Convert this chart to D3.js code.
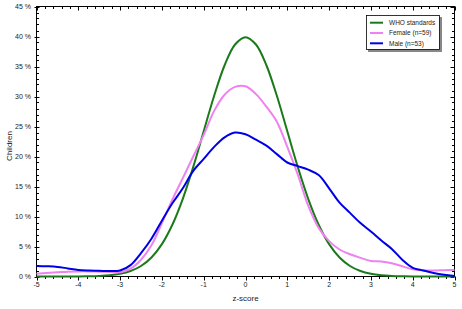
<!DOCTYPE html>
<html><head><meta charset="utf-8">
<script src="https://cdn.jsdelivr.net/npm/d3@7"></script>
<style>
html,body{margin:0;padding:0;background:#fff;}
svg{display:block;font-family:"Liberation Sans",Arial,sans-serif;}
</style></head>
<body><svg id="c" width="462" height="309"></svg>
<script>
const zScores = [-5,-4.75,-4.5,-4.25,-4,-3.75,-3.5,-3.25,-3,-2.75,-2.5,-2.25,-2,-1.75,-1.5,-1.25,-1,-0.75,-0.5,-0.25,0,0.25,0.5,0.75,1,1.25,1.5,1.75,2,2.25,2.5,2.75,3,3.25,3.5,3.75,4,4.25,4.5,4.75,5];
const whoValues = [0.0001,0.0005,0.002,0.005,0.013,0.035,0.087,0.203,0.443,0.909,1.753,3.174,5.399,8.628,12.952,18.265,24.197,30.114,35.207,38.667,39.894,38.667,35.207,30.114,24.197,18.265,12.952,8.628,5.399,3.174,1.753,0.909,0.443,0.203,0.087,0.035,0.013,0.005,0.002,0.0005,0.0001];
const femaleValues = [0.45,0.6,0.7,0.8,0.85,0.85,0.8,0.75,0.7,1.3,2.8,5.2,8.9,12.8,16.4,20.0,23.6,27.6,30.3,31.6,31.7,30.4,28.3,25.8,21.6,17.0,11.8,8.1,5.9,4.5,3.7,3.1,2.6,2.5,2.2,1.7,1.2,1.0,1.0,1.05,1.1];
const maleValues = [1.75,1.7,1.6,1.35,1.1,1.0,0.95,0.9,1.0,1.9,3.9,6.3,9.3,12.2,14.7,17.6,19.6,21.6,23.2,24.0,23.7,22.8,21.8,20.4,19.0,18.4,17.8,16.9,14.7,12.3,10.6,8.9,7.5,6.0,4.6,2.8,1.45,1.0,0.6,0.3,0.1];
const seriesNames = ["WHO standards","Female (n=59)","Male (n=53)"];
const seriesColors = ["#1a7a1a","#ee82ee","#0000e6"];
const xTicks = [-5,-4,-3,-2,-1,0,1,2,3,4,5];
const yTicks = [0,5,10,15,20,25,30,35,40,45];

const svg = d3.select("#c");
const L=36.5, R=454.5, T=6.5, B=276.5;
const x = d3.scaleLinear().domain([-5,5]).range([L,R]);
const y = d3.scaleLinear().domain([0,45]).range([B,T]);

const minorX = d3.range(-5,5.0001,0.2).map(v=>+v.toFixed(2));
const minorY = d3.range(0,45.0001,1);

// frame
svg.append("rect").attr("x",L).attr("y",T).attr("width",R-L).attr("height",B-T)
  .attr("fill","none").attr("stroke","#000").attr("stroke-width",1);

const tk = svg.append("g").attr("stroke","#000").attr("stroke-width",1);
minorX.forEach(v=>{
  const major = Math.abs(v-Math.round(v))<1e-6;
  const px = Math.round(x(v))+0.5;
  tk.append("line").attr("x1",px).attr("x2",px).attr("y1",B).attr("y2",B+(major?4:2.5));
  tk.append("line").attr("x1",px).attr("x2",px).attr("y1",T).attr("y2",T+(major?4:2.5));
});
minorY.forEach(v=>{
  const major = v%5===0;
  const py = Math.round(y(v))+0.5;
  tk.append("line").attr("x1",L-(major?2:0)).attr("x2",L+(major?3:2.5)).attr("y1",py).attr("y2",py);
  tk.append("line").attr("x1",R).attr("x2",R-(major?4:2.5)).attr("y1",py).attr("y2",py);
});

// tick labels
svg.append("g").selectAll("text").data(xTicks).join("text")
  .attr("x",d=>x(d)).attr("y",B+10).attr("text-anchor","middle")
  .attr("font-size",7).attr("fill","#222").text(d=>String(d));
svg.append("g").selectAll("text").data(yTicks).join("text")
  .attr("x",L-5.5).attr("y",d=>y(d)+2.5).attr("text-anchor","end")
  .attr("font-size",7).attr("fill","#222").text(d=>d+" %");

// axis titles
svg.append("text").attr("x",245.5).attr("y",301).attr("text-anchor","middle")
  .attr("font-size",8).attr("fill","#222").text("z-score");
svg.append("text").attr("transform","translate(11.5,146) rotate(-90)").attr("text-anchor","middle")
  .attr("font-size",8).attr("fill","#222").text("Children");

// lines
const line = d3.line().x((d,i)=>x(zScores[i])).y(d=>y(d)).curve(d3.curveCatmullRom.alpha(0.5));
[whoValues,femaleValues,maleValues].forEach((vals,i)=>{
  svg.append("path").datum(vals).attr("d",line).attr("fill","none")
    .attr("stroke",seriesColors[i]).attr("stroke-width",2).attr("stroke-linejoin","round");
});

// legend
const lg = svg.append("g");
lg.append("rect").attr("x",368).attr("y",17).attr("width",74).attr("height",35).attr("fill","#888");
lg.append("rect").attr("x",366.5).attr("y",15.5).attr("width",73).attr("height",34).attr("fill","#fff").attr("stroke","#000").attr("stroke-width",0.8);
seriesNames.forEach((n,i)=>{
  const yy = 22.7 + i*10.3;
  lg.append("line").attr("x1",370).attr("x2",383).attr("y1",yy).attr("y2",yy).attr("stroke",seriesColors[i]).attr("stroke-width",2);
  lg.append("text").attr("x",389).attr("y",yy+2.3).attr("font-size",6.5).attr("fill","#222").text(n);
});
</script></body></html>
